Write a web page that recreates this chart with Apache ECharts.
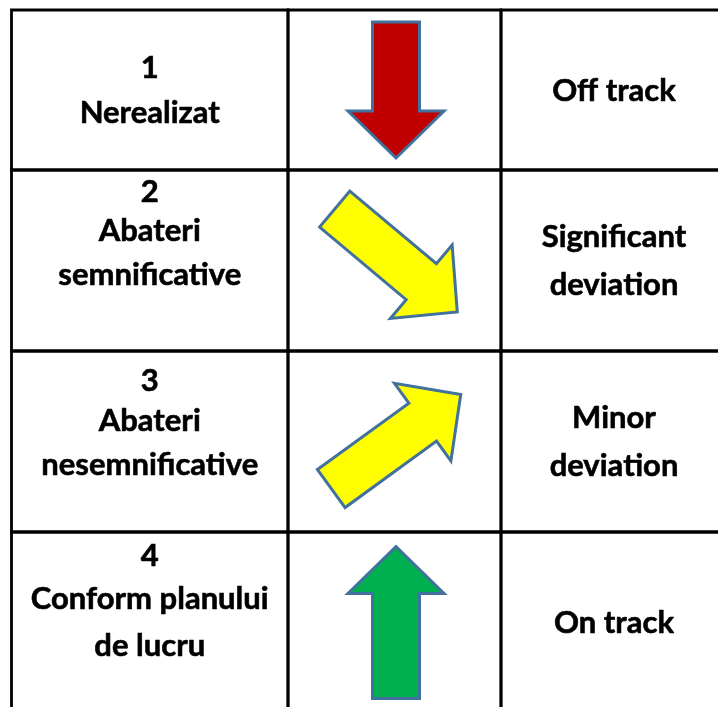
<!DOCTYPE html>
<html><head><meta charset="utf-8">
<script src="https://cdn.jsdelivr.net/npm/echarts@6/dist/echarts.min.js"></script>
<style>html,body{margin:0;padding:0;background:#fff}#c{width:718px;height:707px}</style>
</head><body><div id="c"></div>
<script>
// ---- data ----
const levels = ['1', '2', '3', '4'];
const labelsRo = [['Nerealizat'], ['Abateri', 'semnificative'], ['Abateri', 'nesemnificative'], ['Conform planului', 'de lucru']];
const labelsEn = [['Off track'], ['Significant', 'deviation'], ['Minor', 'deviation'], ['On track']];
const trendAngle = [-90, -40, 36, 90]; // arrow direction, degrees counter-clockwise from east

// ---- layout & style (pixel units of the hidden value axes) ----
const colEdges = [11.5, 288, 501, 730];
const rowEdges = [10, 170, 351, 532, 713];
const roBaselines = [[79, 124], [203, 242, 286], [392, 432, 476], [567, 610, 657]];
const enLineGap = 48;
const arrowLen = [136, 160, 160, 152];
const arrowCenterX = 396;
const shaftW = 47, headW = 96, headL = 47;
const arrowFill = ['#C00000', '#FFFF00', '#FFFF00', '#00B050'];
const arrowStroke = '#41719C';
const FONT = { fontFamily: 'Lato', fontWeight: 'bold', fontSize: 31, stroke: '#000', lineWidth: 0.6 };
const capOffset = 10.8; // baseline -> middle

const chart = echarts.init(document.getElementById('c'), null, { renderer: 'canvas' });

function renderItem(params, api) {
  const i = api.value(0);
  const ang = api.value(1) * Math.PI / 180;
  const P = (x, y) => api.coord([x, y]);
  const children = [];
  const top = rowEdges[i], bot = rowEdges[i + 1];
  // cells
  for (let c = 0; c < 3; c++) {
    const a = P(colEdges[c], top), b = P(colEdges[c + 1], bot);
    children.push({ type: 'rect', shape: { x: a[0], y: a[1], width: b[0] - a[0], height: b[1] - a[1] },
      style: { fill: 'none', stroke: '#000', lineWidth: 2.8 } });
  }
  // column 1 text
  const linesRo = [levels[i]].concat(labelsRo[i]);
  const cx1 = (colEdges[0] + colEdges[1]) / 2;
  linesRo.forEach((t, k) => {
    const p = P(cx1, roBaselines[i][k] - capOffset);
    children.push({ type: 'text', style: Object.assign({ text: t, x: p[0], y: p[1], fill: '#000', align: 'center', verticalAlign: 'middle' }, FONT) });
  });
  // column 3 text
  const cx3 = 614;
  const cy = (top + bot) / 2;
  const en = labelsEn[i];
  en.forEach((t, k) => {
    const yy = cy + (k - (en.length - 1) / 2) * enLineGap + 0.5;
    const p = P(cx3, yy);
    children.push({ type: 'text', style: Object.assign({ text: t, x: p[0], y: p[1], fill: '#000', align: 'center', verticalAlign: 'middle' }, FONT) });
  });
  // arrow
  const L = arrowLen[i];
  const local = [
    [-L / 2, -shaftW / 2], [L / 2 - headL, -shaftW / 2], [L / 2 - headL, -headW / 2], [L / 2, 0],
    [L / 2 - headL, headW / 2], [L / 2 - headL, shaftW / 2], [-L / 2, shaftW / 2]
  ];
  const dx = Math.cos(ang), dy = -Math.sin(ang);
  const nx = Math.sin(ang), ny = Math.cos(ang);
  const pts = local.map(([u, v]) => P(arrowCenterX + u * dx + v * nx, cy + u * dy + v * ny));
  children.push({ type: 'polygon', shape: { points: pts },
    style: { fill: arrowFill[i], stroke: arrowStroke, lineWidth: 3, lineJoin: 'miter' } });
  return { type: 'group', children };
}

chart.setOption({
  animation: false,
  backgroundColor: '#fff',
  grid: { left: 0, right: 0, top: 0, bottom: 0 },
  xAxis: { type: 'value', min: 0, max: 718, show: false },
  yAxis: { type: 'value', min: 0, max: 707, inverse: true, show: false },
  series: [{
    type: 'custom',
    clip: false,
    renderItem,
    data: levels.map((l, i) => [i, trendAngle[i]])
  }]
});
</script></body></html>
